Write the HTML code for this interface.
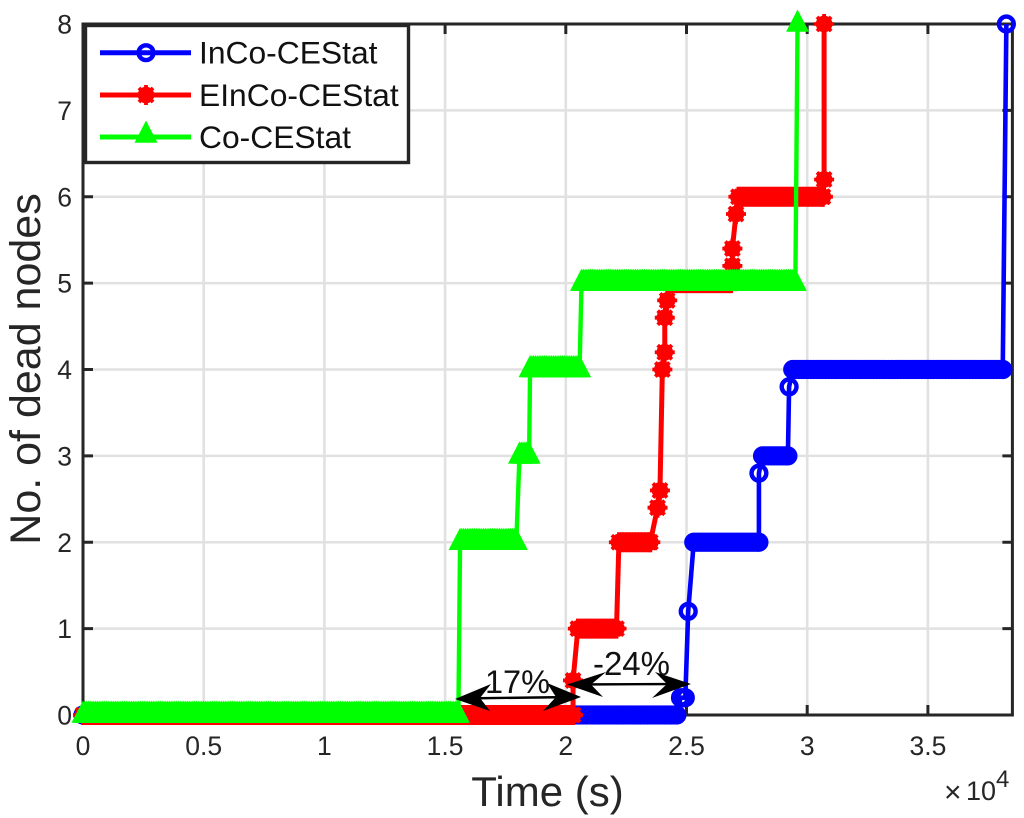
<!DOCTYPE html>
<html>
<head>
<meta charset="utf-8">
<title>No. of dead nodes over time</title>
<style>
html,body{margin:0;padding:0;background:#fff;width:1024px;height:818px;overflow:hidden}
svg{display:block}
text{font-family:"Liberation Sans",Arial,sans-serif}
</style>
</head>
<body>
<svg id="chart" xmlns="http://www.w3.org/2000/svg" width="1024" height="818" viewBox="0 0 1024 818">
  <rect x="0" y="0" width="1024" height="818" fill="#fff"/>
  <g id="grid"></g>
  <g id="axes"></g>
  <g id="series"></g>
  <g id="annot"></g>
  <g id="legend"></g>
  <text x="547.5" y="806" font-size="42" text-anchor="middle" fill="#262626">Time (s)</text>
  <text transform="translate(40,369) rotate(-90)" font-size="43" text-anchor="middle" fill="#262626">No. of dead nodes</text>
  <g fill="#262626">
    <text x="944" y="802" font-size="30">×</text>
    <text x="966" y="800" font-size="27">10</text>
    <text x="996" y="787" font-size="24">4</text>
  </g>
</svg>
<script>
// Chart data (time in units of 1e4 s; value = number of dead nodes)
const xTickValues = [0, 0.5, 1, 1.5, 2, 2.5, 3, 3.5];
const xTickLabels = ["0", "0.5", "1", "1.5", "2", "2.5", "3", "3.5"];
const yTickValues = [0, 1, 2, 3, 4, 5, 6, 7, 8];
const yTickLabels = ["0", "1", "2", "3", "4", "5", "6", "7", "8"];

const blueTimes  = [0, 2.46, 2.475, 2.495, 2.507, 2.53, 2.80, 2.80, 2.815, 2.92, 2.925, 2.94, 3.81, 3.825];
const blueValues = [0, 0, 0.2, 0.2, 1.2, 2, 2, 2.8, 3, 3, 3.8, 4, 4, 8];

const redTimes  = [0, 2.03, 2.03, 2.05, 2.21, 2.22, 2.35, 2.38, 2.39, 2.40, 2.41, 2.41, 2.42, 2.43, 2.685, 2.69, 2.69, 2.705, 2.715, 3.065, 3.07, 3.07];
const redValues = [0, 0, 0.4, 1, 1, 2, 2, 2.4, 2.6, 4, 4.2, 4.6, 4.8, 5, 5, 5.2, 5.4, 5.8, 6, 6, 6.2, 8];

const greenTimes  = [0, 1.555, 1.562, 1.795, 1.808, 1.848, 1.852, 2.057, 2.065, 2.951, 2.96];
const greenValues = [0, 0, 2, 2, 3, 3, 4, 4, 5, 5, 8];

const xLimit = 3.85;
const yLimit = 8;

// Axis functions
const plotLeft = 83, plotRight = 1012.4, plotTop = 24, plotBottom = 715;
function xScale(t) { return plotLeft + (t / xLimit) * (plotRight - plotLeft); }
function yScale(v) { return plotBottom - (v / yLimit) * (plotBottom - plotTop); }

const NS = "http://www.w3.org/2000/svg";
function make(tag, attrs, parent) {
  const el = document.createElementNS(NS, tag);
  for (const k in attrs) el.setAttribute(k, attrs[k]);
  parent.appendChild(el);
  return el;
}

const gridG = document.getElementById("grid");
const axesG = document.getElementById("axes");
const seriesG = document.getElementById("series");
const annotG = document.getElementById("annot");
const legendG = document.getElementById("legend");
const axisColor = "#262626";

// Grid
xTickValues.forEach(function (t) {
  if (t === 0) return;
  const l = make("line", {x1: xScale(t), x2: xScale(t), y1: plotTop, y2: plotBottom, stroke: "#e1e1e1", "stroke-width": 2.6}, gridG);
  
  
});
yTickValues.forEach(function (v) {
  if (v === 0 || v === yLimit) return;
  const l = make("line", {x1: plotLeft, x2: plotRight, y1: yScale(v), y2: yScale(v), stroke: "#e1e1e1", "stroke-width": 2.6}, gridG);
  
  
});

// Axes box
const box = make("rect", {x: plotLeft, y: plotTop, width: plotRight - plotLeft, height: plotBottom - plotTop, fill: "none", stroke: axisColor, "stroke-width": 3}, axesG);



// Ticks and tick labels
xTickValues.forEach(function (t, i) {
  const x = xScale(t);
  const a = make("line", {x1: x, x2: x, y1: plotBottom, y2: plotBottom - 10, stroke: axisColor, "stroke-width": 3}, axesG);
  
  
  const b = make("line", {x1: x, x2: x, y1: plotTop, y2: plotTop + 10, stroke: axisColor, "stroke-width": 3}, axesG);
  
  
  const lab = make("text", {x: x, y: 755, "font-size": 26.5, "text-anchor": "middle", fill: axisColor}, axesG);
  
  
  lab.textContent = xTickLabels[i];
});
yTickValues.forEach(function (v, i) {
  const y = yScale(v);
  const a = make("line", {x1: plotLeft, x2: plotLeft + 10, y1: y, y2: y, stroke: axisColor, "stroke-width": 3}, axesG);
  
  
  const b = make("line", {x1: plotRight, x2: plotRight - 10, y1: y, y2: y, stroke: axisColor, "stroke-width": 3}, axesG);
  
  
  const lab = make("text", {x: 72, y: y + 9.5, "font-size": 26.5, "text-anchor": "end", fill: axisColor}, axesG);
  
  
  lab.textContent = yTickLabels[i];
});

// Marker shapes
function circleMarker(parent, x, y) {
  const m = make("circle", {cx: x, cy: y, r: 7.4, fill: "none", stroke: "#0000ff", "stroke-width": 4.4}, parent);
  
  
}
function starMarker(parent, x, y) {
  const r = 10, s = r * 0.7071;
  const d = "M" + (x - r) + " " + y + "L" + (x + r) + " " + y +
            "M" + x + " " + (y - r) + "L" + x + " " + (y + r) +
            "M" + (x - s) + " " + (y - s) + "L" + (x + s) + " " + (y + s) +
            "M" + (x - s) + " " + (y + s) + "L" + (x + s) + " " + (y - s) +
            "M" + (x - 6.4) + " " + y + "a6.4 6.4 0 1 0 12.8 0a6.4 6.4 0 1 0 -12.8 0";
  const m = make("path", {d: d, fill: "#ff0000", stroke: "#ff0000", "stroke-width": 3.8}, parent);
  
  
}
function triangleMarker(parent, x, y) {
  const pts = x + "," + (y - 14.5) + " " + (x + 11.5) + "," + (y + 7.8) + " " + (x - 11.5) + "," + (y + 7.8);
  const m = make("polygon", {points: pts, fill: "#00ff00", stroke: "none"}, parent);
  
  
}

// Series: stepped line through the breakpoints, one marker per breakpoint,
// and the densely sampled markers along each flat run.
function drawSeries(name, color, width, times, values, marker, stride) {
  const g = make("g", {}, seriesG);
  
  
  const pts = times.map(function (t, i) { return xScale(t) + "," + yScale(values[i]); }).join(" ");
  const line = make("polyline", {points: pts, fill: "none", stroke: color, "stroke-width": width, "stroke-linejoin": "round"}, g);
  
  
  times.forEach(function (t, i) {
    const x = xScale(t), y = yScale(values[i]);
    marker(g, x, y);
    if (i + 1 < times.length && values[i + 1] === values[i]) {
      const xEnd = xScale(times[i + 1]);
      for (let px = x + stride; px < xEnd; px += stride) marker(g, px, y);
    }
  });
}
drawSeries("inco-cestat-series", "#0000ff", 4.6, blueTimes, blueValues, circleMarker, 3);
drawSeries("einco-cestat-series", "#ff0000", 5, redTimes, redValues, starMarker, 3);
drawSeries("co-cestat-series", "#00ff00", 4.4, greenTimes, greenValues, triangleMarker, 1.8);

// Annotations
function arrowHead(tipX, tipY, dir, barbTopX, barbTopY, barbBotX, barbBotY, notchX, notchY) {
  const p = make("polygon", {points: tipX + "," + tipY + " " + barbTopX + "," + barbTopY + " " + notchX + "," + notchY + " " + barbBotX + "," + barbBotY, fill: "#000"}, annotG);
  
  
}
const shaft1 = make("line", {x1: 460, y1: 698.5, x2: 575, y2: 697, stroke: "#000", "stroke-width": 2.4}, annotG);


arrowHead(455, 699, "left", 491, 684, 490, 711, 480, 698);
arrowHead(581, 697, "right", 547, 683, 543, 711, 556, 697);
const shaft2 = make("line", {x1: 573, y1: 684.5, x2: 685, y2: 684, stroke: "#000", "stroke-width": 2.4}, annotG);


arrowHead(567, 684.5, "left", 606, 672, 603, 697, 591, 684.5);
arrowHead(691, 684, "right", 655, 672, 652, 698, 667, 684);
const t17 = make("text", {x: 517.5, y: 693, "font-size": 32.5, "text-anchor": "middle", fill: "#111"}, annotG);


t17.textContent = "17%";
const t24 = make("text", {x: 631.5, y: 675, "font-size": 33, "text-anchor": "middle", fill: "#111"}, annotG);


t24.textContent = "-24%";

// Legend
const legendBox = make("rect", {x: 85.5, y: 25.5, width: 323, height: 137, fill: "#fff", stroke: axisColor, "stroke-width": 3.4}, legendG);


const legendNames = ["InCo-CEStat", "EInCo-CEStat", "Co-CEStat"];
const legendColors = ["#0000ff", "#ff0000", "#00ff00"];
const legendMarkers = [circleMarker, starMarker, triangleMarker];
const legendRows = [52.7, 95, 137];
legendNames.forEach(function (nm, i) {
  const g = make("g", {}, legendG);
  
  
  const sw = make("line", {x1: 100, x2: 191, y1: legendRows[i], y2: legendRows[i], stroke: legendColors[i], "stroke-width": 5}, g);
  
  
  legendMarkers[i](g, 146, legendRows[i] - (i === 2 ? 2 : 0));
  const tx = make("text", {x: 199, y: legendRows[i] + 11, "font-size": 31.8, fill: "#111"}, g);
  
  
  tx.textContent = nm;
});
</script>
</body>
</html>
